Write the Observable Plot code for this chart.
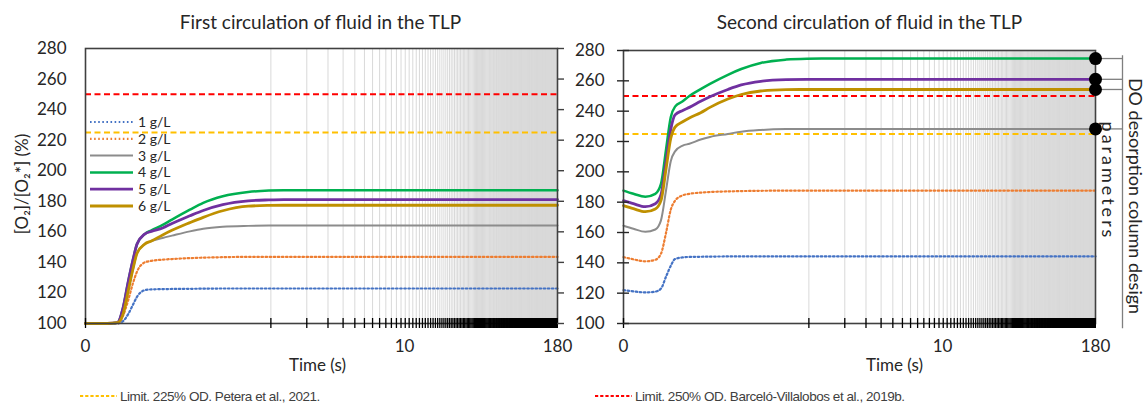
<!DOCTYPE html>
<html>
<head>
<meta charset="utf-8">
<script src="https://cdn.jsdelivr.net/npm/d3@7"></script>
<script src="https://cdn.jsdelivr.net/npm/@observablehq/plot@0.6"></script>
<style>
  html, body { margin: 0; padding: 0; background: #fff; }
  #wrap { position: relative; width: 1146px; height: 408px; overflow: hidden; font-family: Lato, "Open Sans", sans-serif; }
  #left { position: absolute; left: 0; top: 0; }
  #right { position: absolute; left: 566px; top: 0; }
  #legend { position: absolute; left: 88px; top: 112px; }
  #foot { position: absolute; left: 0; top: 388px; width: 1146px; height: 20px; font-family: "Liberation Sans Narrow", "Liberation Sans", sans-serif; font-size: 13.5px; letter-spacing: -0.45px; color: #404040; }
  #foot .item { position: absolute; top: 0; white-space: nowrap; display: flex; align-items: center; }
  #foot svg { margin-right: 3px; }
</style>
</head>
<body>
<div id="wrap">
  <div id="left"></div>
  <div id="right"></div>
  <div id="legend"></div>
  <div id="foot"></div>
</div>
<script>
// ---------------- data ----------------
const times = [0, 0.005, 0.0124, 0.02, 0.025, 0.03, 0.035, 0.04, 0.05, 0.06, 0.08, 0.1, 0.15, 0.2, 0.3, 0.5, 0.75, 1, 2, 5, 180];

const seriesNames = ["1 g/L", "2 g/L", "3 g/L", "4 g/L", "5 g/L", "6 g/L"];

// First circulation of fluid in the TLP
const first1 = [100, 100, 100, 100, 101.5, 106, 112, 117.5, 121.8, 122.3, 122.5, 122.6, 122.7, 122.8, 122.9, 122.9, 122.9, 122.9, 122.9, 122.9, 122.9];
const first2 = [100, 100, 100, 100, 105, 115, 126, 134, 140, 141, 141.8, 142.2, 142.8, 143.1, 143.4, 143.6, 143.6, 143.6, 143.6, 143.6, 143.6];
const first3 = [100, 100, 100, 100.5, 106, 121, 135, 146, 152, 154, 156, 157.5, 160.3, 162, 163.3, 163.9, 164.1, 164.1, 164.1, 164.1, 164.1];
const first4 = [100, 100, 100, 100.5, 110, 127, 141, 152, 158.5, 161, 164.5, 168, 174.5, 179, 183.3, 186.1, 187, 187.2, 187.2, 187.2, 187.2];
const first5 = [100, 100, 100, 100.5, 110, 127, 141, 152, 158.5, 160.3, 162.5, 165.5, 170.5, 174, 177.8, 180.3, 180.9, 181.1, 181.1, 181.1, 181.1];
const first6 = [100, 100, 100, 100.5, 106, 121, 135, 146, 152, 154, 158, 161, 166, 169.5, 173.8, 176.8, 177.3, 177.4, 177.4, 177.4, 177.4];

// Second circulation of fluid in the TLP
const second1 = [122, 121.2, 120.5, 121, 123, 131, 138, 142.5, 143.6, 143.9, 144, 144.1, 144.2, 144.2, 144.2, 144.2, 144.2, 144.2, 144.2, 144.2, 144.2];
const second2 = [143.8, 142.3, 141, 142, 146, 160, 175, 181, 184.5, 185.5, 186.3, 186.7, 187.1, 187.3, 187.5, 187.6, 187.6, 187.6, 187.6, 187.6, 187.6];
const second3 = [164.5, 162.5, 160.5, 162, 168, 188, 207, 213.5, 217.3, 218.5, 221.3, 223, 225, 226.5, 227.6, 228.2, 228.3, 228.3, 228.3, 228.3, 228.3];
const second4 = [187.6, 185.5, 183.6, 185.5, 192, 215, 236, 243, 246.5, 250, 254.5, 258, 264, 267.8, 271.8, 274, 274.6, 274.7, 274.7, 274.7, 274.7];
const second5 = [181, 179, 177, 179, 185, 207, 228, 237.5, 240.5, 242.5, 246.5, 249.5, 254.3, 257.3, 259.7, 260.8, 261, 261, 261, 261, 261];
const second6 = [177.7, 175.7, 173.7, 175.5, 181, 202, 222, 229.5, 233, 235.5, 239, 242.5, 248, 251, 253.3, 254.2, 254.3, 254.3, 254.3, 254.3, 254.3];

const limitValues = [225, 250];
const limitLabels = ["Limit. 225% OD. Petera et al., 2021.", "Limit. 250% OD. Barceló-Villalobos et al., 2019b."];

const yTicks = [100, 120, 140, 160, 180, 200, 220, 240, 260, 280];
const xTickValues = [0, 10, 180];
const xTickLabels = ["0", "10", "180"];

const panelTitles = ["First circulation of fluid in the TLP", "Second circulation of fluid in the TLP"];
const xTitle = "Time (s)";
const yTitle = "[O\u2082]/[O\u2082*] (%)";
const sideTitles = ["DO desorption column design", "parameters"];
const designBracket = [96.5, 276.5];

// ---------------- styles ----------------
const seriesColors = ["#4472c4", "#ed7d31", "#8c8c8c", "#00b050", "#7030a0", "#bf9000"];
const seriesWidths = [2.2, 2.2, 2, 2.5, 2.8, 2.8];
const seriesDash = ["1.6 2.5", "1.6 2.5", null, null, null, null];
const limitColors = ["#ffc000", "#ff0000"];
const SYMLOG_C = 0.0243;
const stepTimes = d3.range(0.78, 180, 0.78);   // simulation time steps (axis ticks / gridlines)
const FONT = "Lato, 'Open Sans', sans-serif";

function seriesLines(all) {
  return all.map((vals, i) => Plot.line(times.map((t, j) => ({t, v: vals[j]})), {
    x: "t", y: "v", stroke: seriesColors[i], strokeWidth: seriesWidths[i],
    strokeDasharray: seriesDash[i], curve: "monotone-x"
  }));
}
function limitLines() {
  return limitValues.map((v, i) => Plot.ruleY([v], {stroke: limitColors[i], strokeWidth: 2, strokeDasharray: "6 3.5"}));
}
const xScale = {type: "symlog", constant: SYMLOG_C, domain: [0, 180]};
const yScale = {domain: [100, 280]};
const style = {fontFamily: FONT, fontSize: "16px", color: "#262626", background: "transparent", overflow: "visible"};

// ---------------- left panel ----------------
const left = Plot.plot({
  width: 566, height: 385, marginLeft: 85, marginRight: 9, marginTop: 48, marginBottom: 62,
  x: xScale, y: yScale, style,
  marks: [
    Plot.ruleX(stepTimes, {x: d => d, stroke: "#d9d9d9", strokeWidth: 1}),
    ...limitLines(),
    ...seriesLines([first1, first2, first3, first4, first5, first6]),
    Plot.frame({stroke: "#404040", strokeWidth: 1.6}),
    Plot.ruleX([0, ...stepTimes], {x: d => d, y1: 100, y2: 100, insetTop: -5, insetBottom: -5, stroke: "#000", strokeWidth: 1.3}),
    Plot.ruleY(yTicks, {y: d => d, x1: 180, x2: 180, insetRight: -7, stroke: "#404040", strokeWidth: 1.4}),
    Plot.axisY(yTicks, {anchor: "left", tickSize: 0, tickPadding: 19, label: null, fontSize: 17}),
    Plot.axisX(xTickValues, {anchor: "bottom", tickSize: 0, tickPadding: 16, label: null, fontSize: 17,
      tickFormat: d => xTickLabels[xTickValues.indexOf(d)]}),
    Plot.text([xTitle], {frameAnchor: "bottom", dy: 42, fontSize: 17, lineAnchor: "middle", dx: -4}),
    Plot.text([panelTitles[0]], {frameAnchor: "top", dy: -26, fontSize: 19, lineAnchor: "middle", dx: -1}),
    Plot.text([yTitle], {frameAnchor: "left", rotate: -90, dx: -63, dy: -2, fontSize: 17, lineAnchor: "middle", textAnchor: "middle"})
  ]
});
document.getElementById("left").appendChild(left);

// ---------------- right panel ----------------
const secondAll = [second1, second2, second3, second4, second5, second6];
const designFinals = [second4, second5, second6, second3].map(a => a[a.length - 1]);
const right = Plot.plot({
  width: 580, height: 385, marginLeft: 57, marginRight: 51, marginTop: 50, marginBottom: 62,
  x: xScale, y: yScale, style,
  marks: [
    Plot.ruleX(stepTimes, {x: d => d, stroke: "#d9d9d9", strokeWidth: 1}),
    ...limitLines(),
    ...seriesLines(secondAll),
    Plot.frame({stroke: "#404040", strokeWidth: 1.6}),
    Plot.ruleX([0, ...stepTimes], {x: d => d, y1: 100, y2: 100, insetTop: -5, insetBottom: -5, stroke: "#000", strokeWidth: 1.3}),
    Plot.ruleY(yTicks, {y: d => d, x1: 0, x2: 0, insetLeft: -6, insetRight: -6, stroke: "#262626", strokeWidth: 1.4}),
    Plot.axisY(yTicks, {anchor: "left", tickSize: 0, tickPadding: 19, label: null, fontSize: 17}),
    Plot.axisX(xTickValues, {anchor: "bottom", tickSize: 0, tickPadding: 16, label: null, fontSize: 17,
      tickFormat: d => xTickLabels[xTickValues.indexOf(d)]}),
    Plot.text([xTitle], {frameAnchor: "bottom", dy: 42, dx: 35, fontSize: 17, lineAnchor: "middle"}),
    Plot.text([panelTitles[1]], {frameAnchor: "top", dy: -28, dx: 10, fontSize: 19, lineAnchor: "middle"}),
    // design-parameter bracket
    Plot.ruleY(designFinals, {y: d => d, x1: 180, x2: 180, insetRight: -27, stroke: "#7f7f7f", strokeWidth: 1.3}),
    Plot.ruleX([180], {x: d => d, y1: designBracket[0], y2: designBracket[1], dx: 27, stroke: "#7f7f7f", strokeWidth: 1.3}),
    Plot.dot(designFinals, {x: 180, y: d => d, r: 6.5, fill: "#000"}),
    Plot.text([sideTitles[0]], {frameAnchor: "right", rotate: 90, dx: 39, dy: 9, fontSize: 18, textAnchor: "middle", lineAnchor: "middle"}),
    Plot.text([sideTitles[1]], {frameAnchor: "right", rotate: 90, dx: 12, dy: -6, fontSize: 18, textAnchor: "middle", lineAnchor: "middle"})
  ]
});
document.getElementById("right").appendChild(right);

// ---------------- in-plot legend ----------------
{
  const rowH = 16.8;
  const svg = d3.select("#legend").append("svg").attr("width", 90).attr("height", 105)
    .style("font-family", FONT).style("font-size", "14px");
  seriesNames.forEach((name, i) => {
    const y = 10 + i * rowH;
    svg.append("line").attr("x1", 2).attr("x2", 45).attr("y1", y).attr("y2", y)
      .attr("stroke", seriesColors[i]).attr("stroke-width", seriesWidths[i])
      .attr("stroke-dasharray", seriesDash[i]);
    svg.append("text").attr("x", 50).attr("y", y).attr("dy", "0.35em").attr("fill", "#262626").text(name);
  });
}

// ---------------- footnote legend ----------------
{
  const foot = d3.select("#foot");
  const lefts = [80, 595];
  limitLabels.forEach((lab, i) => {
    const item = foot.append("div").attr("class", "item").style("left", lefts[i] + "px");
    const s = item.append("svg").attr("width", 37).attr("height", 16);
    s.append("line").attr("x1", 0).attr("x2", 37).attr("y1", 8).attr("y2", 8)
      .attr("stroke", limitColors[i]).attr("stroke-width", 2).attr("stroke-dasharray", "3.2 2");
    item.append("span").text(lab);
  });
}

// letter spacing for the wide rotated label
d3.select(right).selectAll("text").filter(function() { return this.textContent === sideTitles[1]; })
  .attr("letter-spacing", "3px");
</script>
</body>
</html>
